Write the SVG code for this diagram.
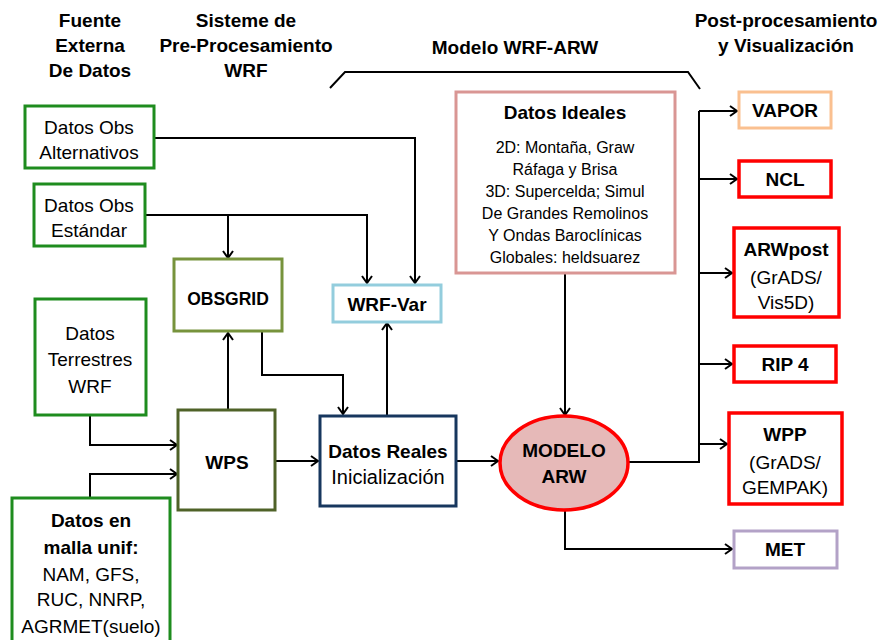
<svg xmlns="http://www.w3.org/2000/svg" width="878" height="640" viewBox="0 0 878 640">
<style>
text{font-family:"Liberation Sans",Arial,sans-serif;fill:#000;text-anchor:middle}
.h{font-weight:bold;font-size:19px}
.b{font-weight:bold;font-size:19px}
.t{font-size:19px}
.s{font-size:16px}
.n{fill:#fff}
.g{stroke:#1e8c1e;stroke-width:3}
.red{stroke:#ff0000;stroke-width:3.5}
.c{fill:none;stroke:#000;stroke-width:2;marker-end:url(#a)}
</style>
<defs>
<marker id="a" markerWidth="12" markerHeight="12" refX="9" refY="6" orient="auto" markerUnits="userSpaceOnUse">
<polyline points="2,1 9,6 2,11" fill="none" stroke="#000" stroke-width="2"/>
</marker>
</defs>
<rect width="878" height="640" fill="#fff"/>
<g id="headers">
<text class="h" x="90" y="27">Fuente</text>
<text class="h" x="90" y="52">Externa</text>
<text class="h" x="90" y="77">De Datos</text>
<text class="h" x="246" y="27">Sisteme de</text>
<text class="h" x="246" y="52">Pre-Procesamiento</text>
<text class="h" x="246" y="77">WRF</text>
<text class="h" x="515" y="54">Modelo WRF-ARW</text>
<text class="h" x="786" y="27">Post-procesamiento</text>
<text class="h" x="786" y="52">y Visualización</text>
<polyline points="330,88 345,72 688,72 700,89" fill="none" stroke="#000" stroke-width="2"/>
</g>
<g id="connectors">
<polyline class="c" points="153,138 415,138 415,283"/>
<polyline class="c" points="145,215 367,215 367,283"/>
<polyline class="c" points="228,215 228,258"/>
<polyline class="c" points="90,415 90,445 177,445"/>
<polyline class="c" points="90,497 90,474 177,474"/>
<polyline class="c" points="228,410 228,333"/>
<polyline class="c" points="262,331 262,375 343,375 343,414"/>
<polyline class="c" points="387,416 387,323"/>
<polyline class="c" points="275,461 318,461"/>
<polyline class="c" points="456,461 498,461"/>
<polyline class="c" points="565,273 565,415"/>
<polyline fill="none" stroke="#000" stroke-width="2" points="628,462 699,462 699,111"/>
<polyline class="c" points="699,111 737,111"/>
<polyline class="c" points="699,179 737,179"/>
<polyline class="c" points="699,273 732,273"/>
<polyline class="c" points="699,364 732,364"/>
<polyline class="c" points="699,444 727,444"/>
<polyline class="c" points="565,510 565,549 732,549"/>
</g>
<g id="obs-alt">
<rect class="n g" x="25" y="106" width="129" height="62"/>
<text class="t" x="89" y="134">Datos Obs</text>
<text class="t" x="89" y="159">Alternativos</text>
</g>
<g id="obs-std">
<rect class="n g" x="34" y="184" width="111" height="62"/>
<text class="t" x="89" y="212">Datos Obs</text>
<text class="t" x="89" y="237">Estándar</text>
</g>
<g id="terrestres">
<rect class="n g" x="35" y="299" width="111" height="116"/>
<text class="t" x="90" y="340">Datos</text>
<text class="t" x="90" y="366">Terrestres</text>
<text class="t" x="90" y="393">WRF</text>
</g>
<g id="malla">
<rect class="n g" x="12" y="498" width="158" height="160"/>
<text class="b" x="91" y="527">Datos en</text>
<text class="b" x="91" y="554">malla unif:</text>
<text class="t" x="91" y="581">NAM, GFS,</text>
<text class="t" x="91" y="606">RUC, NNRP,</text>
<text class="t" x="91" y="633">AGRMET(suelo)</text>
</g>
<g id="obsgrid">
<rect class="n" x="174" y="259" width="108" height="72" stroke="#77933c" stroke-width="3"/>
<text class="b" x="228" y="305" style="font-size:17.5px">OBSGRID</text>
</g>
<g id="wrfvar">
<rect class="n" x="333" y="285" width="108" height="37" stroke="#93cddd" stroke-width="3"/>
<text class="b" x="387" y="311">WRF-Var</text>
</g>
<g id="wps">
<rect class="n" x="178" y="410" width="97" height="100" stroke="#4f6228" stroke-width="3"/>
<text class="b" x="227" y="469">WPS</text>
</g>
<g id="reales">
<rect class="n" x="320" y="416" width="136" height="90" stroke="#17375e" stroke-width="3"/>
<text class="b" x="388" y="458">Datos Reales</text>
<text class="t" x="388" y="484" style="font-size:20px">Inicialización</text>
</g>
<g id="ideales">
<rect class="n" x="456" y="92" width="219" height="181" stroke="#d99694" stroke-width="3"/>
<text class="b" x="565" y="119">Datos Ideales</text>
<text class="s" x="565" y="153">2D: Montaña, Graw</text>
<text class="s" x="565" y="175">Ráfaga y Brisa</text>
<text class="s" x="565" y="197">3D: Supercelda; Simul</text>
<text class="s" x="565" y="219">De Grandes Remolinos</text>
<text class="s" x="565" y="241">Y Ondas Baroclínicas</text>
<text class="s" x="565" y="263">Globales: heldsuarez</text>
</g>
<g id="modelo">
<ellipse cx="564" cy="463" rx="64" ry="47" fill="#e6b9b8" stroke="#ff0000" stroke-width="3.5"/>
<text class="b" x="564" y="457">MODELO</text>
<text class="b" x="564" y="483">ARW</text>
</g>
<g id="vapor">
<rect class="n" x="739" y="92" width="92" height="36" stroke="#fac090" stroke-width="3"/>
<text class="b" x="785" y="117">VAPOR</text>
</g>
<g id="ncl">
<rect class="n red" x="739" y="161" width="92" height="36"/>
<text class="b" x="785" y="186">NCL</text>
</g>
<g id="arwpost">
<rect class="n red" x="734" y="228" width="105" height="89"/>
<text class="b" x="786" y="256">ARWpost</text>
<text class="t" x="786" y="284">(GrADS/</text>
<text class="t" x="786" y="309">Vis5D)</text>
</g>
<g id="rip4">
<rect class="n red" x="734" y="346" width="102" height="36"/>
<text class="b" x="785" y="371">RIP 4</text>
</g>
<g id="wpp">
<rect class="n red" x="729" y="413" width="113" height="91"/>
<text class="b" x="785" y="441">WPP</text>
<text class="t" x="785" y="469">(GrADS/</text>
<text class="t" x="785" y="494">GEMPAK)</text>
</g>
<g id="met">
<rect class="n" x="734" y="531" width="103" height="37" stroke="#b3a2c7" stroke-width="3"/>
<text class="b" x="785" y="556">MET</text>
</g>
</svg>
